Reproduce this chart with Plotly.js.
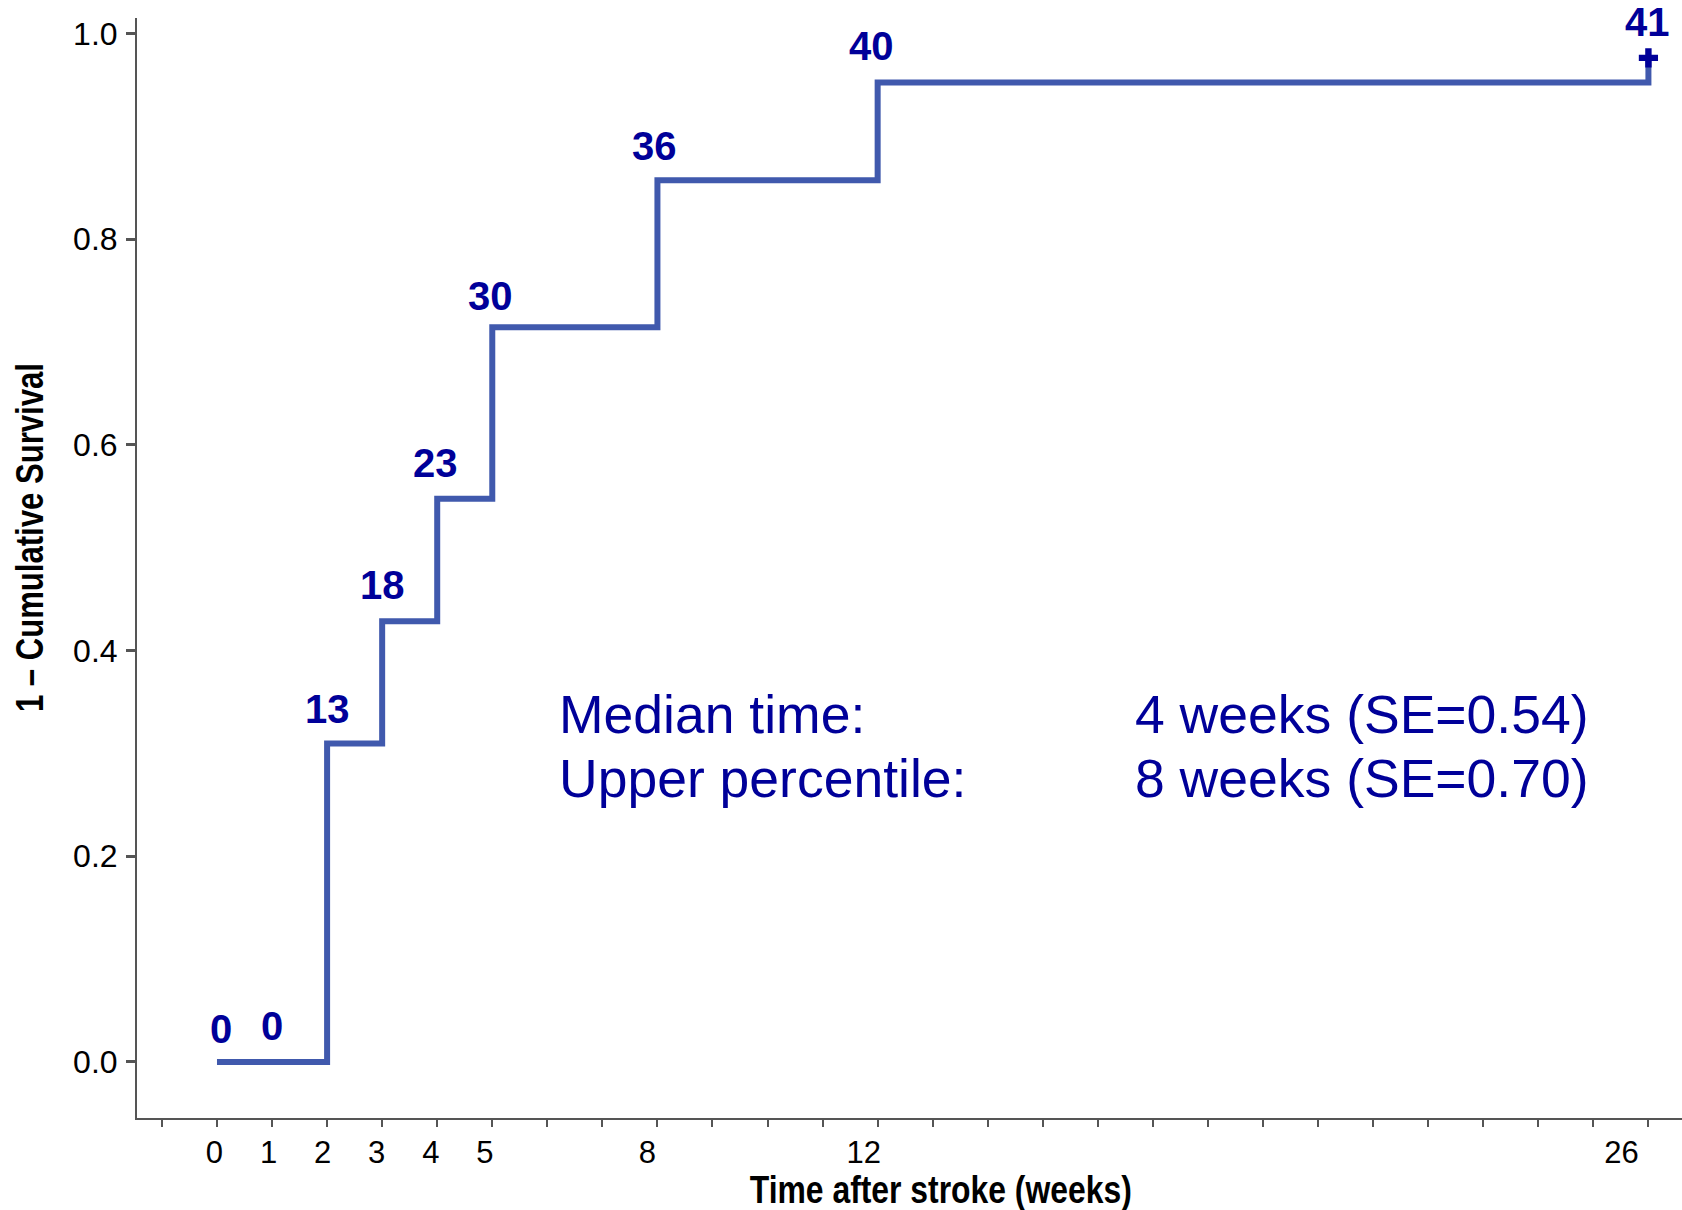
<!DOCTYPE html>
<html>
<head>
<meta charset="utf-8">
<script src="https://cdn.plot.ly/plotly-3.0.1.min.js"></script>
<style>html,body{margin:0;padding:0;background:#fff;}#chart{width:1682px;height:1210px;}</style>
</head>
<body>
<div id="chart"></div>
<script>
// ---- data ----
const eventTimes = [0, 2, 3, 4, 5, 8, 12, 26];              // weeks
const cumEvents  = [0, 13, 18, 23, 30, 36, 40, 41];          // cumulative events
const totalN = 42;
const cumIncidence = cumEvents.map(v => v / totalN);        // 1 - cumulative survival
const labelTimes  = [0, 1, 2, 3, 4, 5, 8, 12, 26];
const labelCounts = [0, 0, 13, 18, 23, 30, 36, 40, 41];
const labelLevels = [0, 0, 13/42, 18/42, 23/42, 30/42, 36/42, 40/42, 41/42];
const censorTime = [26];
const censorLevel = [41/42];
const xTickLabels = [0, 1, 2, 3, 4, 5, 8, 12, 26];
const yTicks = [0, 0.2, 0.4, 0.6, 0.8, 1.0];
const statNames  = ['Median time:', 'Upper percentile:'];
const statValues = ['4 weeks (SE=0.54)', '8 weeks (SE=0.70)'];
const xTitle = 'Time after stroke (weeks)';
const yTitle = '1 \u2013 Cumulative Survival';

const labelColor = '#000099';
const lineColor = '#4059ad';
const FONT = 'Liberation Sans, Arial, sans-serif';

const traces = [
  {
    x: eventTimes, y: cumIncidence, type: 'scatter', mode: 'lines',
    line: {shape: 'hv', color: lineColor, width: 6},
    hoverinfo: 'skip', showlegend: false
  },
  {
    x: censorTime, y: censorLevel, type: 'scatter', mode: 'markers',
    marker: {symbol: 'cross', size: 16, color: labelColor},
    hoverinfo: 'skip', showlegend: false
  },
  {
    x: xTickLabels, y: xTickLabels.map(() => null), xaxis: 'x2', type: 'scatter', mode: 'markers',
    hoverinfo: 'skip', showlegend: false
  }
];

const labelShift = [4, 0, 0, 0, -2, -2, -3, -6, -1];
const labelYShift = [33, 36, 35, 36, 36, 31, 34, 36, 36];
const annotations = labelTimes.map((t, i) => ({
  x: t, y: labelLevels[i], xref: 'x', yref: 'y',
  text: '<b>' + labelCounts[i] + '</b>', showarrow: false,
  xanchor: 'center', yanchor: 'middle', yshift: labelYShift[i], xshift: labelShift[i],
  font: {family: FONT, size: 40, color: labelColor}
}));
const statY = [0.338, 0.276];
statNames.forEach((s, i) => {
  annotations.push({
    x: 6.17, y: statY[i], xref: 'x', yref: 'y', text: s, showarrow: false,
    xanchor: 'left', yanchor: 'middle',
    font: {family: FONT, size: 53.5, color: labelColor}
  });
  annotations.push({
    x: 16.63, y: statY[i], xref: 'x', yref: 'y', text: statValues[i], showarrow: false,
    xanchor: 'left', yanchor: 'middle',
    font: {family: FONT, size: 53.5, color: labelColor}
  });
});
// axis titles as annotations (offset from plot centre as in the reference)
annotations.push({
  x: 0.5204, y: -0.0655, xref: 'paper', yref: 'paper', text: '<b>' + xTitle + '</b>',
  showarrow: false, xanchor: 'center', yanchor: 'middle',
  font: {family: FONT, size: 38, color: '#000'}
});
annotations.push({
  x: -0.0693, y: 0.5282, xref: 'paper', yref: 'paper', text: '<b>' + yTitle + '</b>',
  showarrow: false, xanchor: 'center', yanchor: 'middle', textangle: -90,
  font: {family: FONT, size: 38, color: '#000'}
});

const layout = {
  width: 1682, height: 1210,
  margin: {l: 137, r: 0, t: 18, b: 92},
  paper_bgcolor: '#fff', plot_bgcolor: '#fff',
  showlegend: false,
  font: {family: FONT, color: '#000'},
  xaxis: {
    range: [-1.453, 26.61],
    tickmode: 'linear', tick0: -1, dtick: 1,
    showticklabels: false,
    ticks: 'outside', ticklen: 7, tickwidth: 2, tickcolor: '#555',
    showline: true, linecolor: '#555', linewidth: 2,
    showgrid: false, zeroline: false
  },
  xaxis2: {
    overlaying: 'x', anchor: 'y', side: 'bottom',
    range: [-1.43, 27.12],
    tickmode: 'array', tickvals: xTickLabels, ticktext: xTickLabels.map(String),
    ticks: '', showline: false, showgrid: false, zeroline: false,
    ticklabelstandoff: 13,
    tickfont: {family: FONT, size: 31, color: '#000'}
  },
  yaxis: {
    range: [-0.0545, 1.015],
    tickmode: 'array', tickvals: yTicks, tickformat: '.1f',
    ticks: 'outside', ticklen: 9, tickwidth: 3, tickcolor: '#555',
    showline: true, linecolor: '#555', linewidth: 2,
    showgrid: false, zeroline: false, ticklabelstandoff: 2,
    tickfont: {family: FONT, size: 32, color: '#000'}
  },
  annotations: annotations
};

Plotly.newPlot('chart', traces, layout, {displayModeBar: false, staticPlot: true}).then(gd => {
  // condense the bold axis titles as in the reference (narrow bold face)
  const targets = [[xTitle, 382], [yTitle, 349]];
  gd.querySelectorAll('text.annotation-text').forEach(t => {
    targets.forEach(([txt, len]) => {
      if (t.textContent === txt) {
        t.setAttribute('textLength', len);
        t.setAttribute('lengthAdjust', 'spacingAndGlyphs');
      }
    });
  });
});
</script>
</body>
</html>
